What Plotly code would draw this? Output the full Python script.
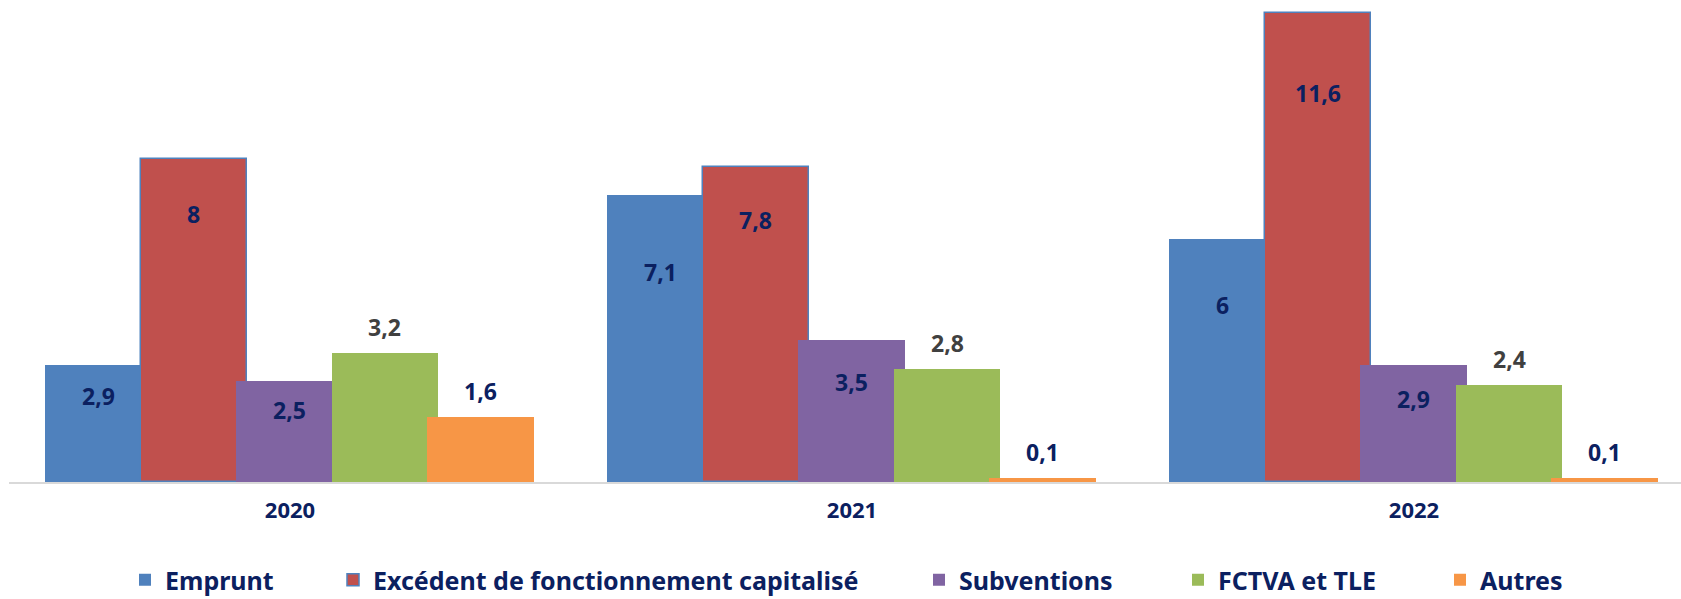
import plotly.graph_objects as go

years = ["2020", "2021", "2022"]
series_names = ["Emprunt", "Excédent de fonctionnement capitalisé", "Subventions", "FCTVA et TLE", "Autres"]
emprunt = [2.9, 7.1, 6.0]
excedent = [8.0, 7.8, 11.6]
subventions = [2.5, 3.5, 2.9]
fctva = [3.2, 2.8, 2.4]
autres = [1.6, 0.1, 0.1]
label_texts = [
    ["2,9", "7,1", "6"],
    ["8", "7,8", "11,6"],
    ["2,5", "3,5", "2,9"],
    ["3,2", "2,8", "2,4"],
    ["1,6", "0,1", "0,1"],
]

values = [emprunt, excedent, subventions, fctva, autres]
colors = ["#4F81BD", "#C0504D", "#8064A2", "#9BBB59", "#F79646"]
line_colors = ["#4F81BD", "#4F81BD", "#8064A2", "#9BBB59", "#F79646"]
line_widths = [0, 1.5, 0, 0, 0]
label_mode = ["inside", "inside", "inside", "outside", "outside"]
inside_frac = [0.73, 0.83, 0.71, None, None]
label_colors = ["#0B2060", "#0B2060", "#0B2060", "#404040", "#0B2060"]

NAVY = "#0B2060"
BAR_W = 0.19
STEP = 0.17
START = -0.436

W, H = 1681, 599
ML, MR, MT, MB = 9, 0, 0, 117
PW = W - ML - MR
PH = H - MT - MB
legend_text_px = [163, 371, 957, 1216, 1478]
legend_center_px = 580

fig = go.Figure()
annotations = []
legend_layouts = {}
for i, (name, vals) in enumerate(zip(series_names, values)):
    off = START + i * STEP
    lname = "legend" if i == 0 else f"legend{i+1}"
    fig.add_trace(go.Bar(
        name=name,
        x=list(range(len(years))),
        y=vals,
        offset=off,
        width=BAR_W,
        marker=dict(color=colors[i], line=dict(color=line_colors[i], width=line_widths[i])),
        hoverinfo="skip",
        legend=lname,
    ))
    legend_layouts[lname] = dict(
        x=(legend_text_px[i] - 38 - ML) / PW, xanchor="left",
        y=(MT + PH - legend_center_px) / PH, yanchor="middle",
        orientation="h",
        font=dict(family="Noto Sans", size=25, color=NAVY, weight="bold"),
        bgcolor="rgba(0,0,0,0)",
    )
    for j, v in enumerate(vals):
        xc = j + off + BAR_W / 2
        if label_mode[i] == "inside":
            annotations.append(dict(x=xc, y=v * inside_frac[i], xref="x", yref="y",
                                    text=f"<b>{label_texts[i][j]}</b>", showarrow=False,
                                    font=dict(family="Noto Sans", size=23, color=label_colors[i]),
                                    xanchor="center", yanchor="middle"))
        else:
            annotations.append(dict(x=xc, y=v, xref="x", yref="y",
                                    text=f"<b>{label_texts[i][j]}</b>", showarrow=False,
                                    font=dict(family="Noto Sans", size=23, color=label_colors[i]),
                                    xanchor="center", yanchor="middle", yshift=26))

fig.update_layout(
    width=W, height=H,
    barmode="overlay",
    plot_bgcolor="white", paper_bgcolor="white",
    margin=dict(l=ML, r=MR, t=MT, b=MB, autoexpand=False),
    xaxis=dict(
        range=[-0.5, 2.475],
        tickmode="array", tickvals=list(range(len(years))), ticktext=[f"<b>{y}</b>" for y in years],
        tickfont=dict(family="Noto Sans", size=22, color=NAVY),
        showline=True, linecolor="#D9D9D9", linewidth=2,
        showgrid=False, zeroline=False, ticks="", ticklen=0,
        ticklabelstandoff=8,
    ),
    yaxis=dict(range=[0, 11.92], visible=False, showgrid=False, zeroline=False),
    showlegend=True,
    annotations=annotations,
    bargap=0,
    **legend_layouts,
)

fig.write_html(
    "out.html",
    config={"displayModeBar": False},
    post_script="document.body.style.margin='0';document.body.style.overflow='hidden';",
)
